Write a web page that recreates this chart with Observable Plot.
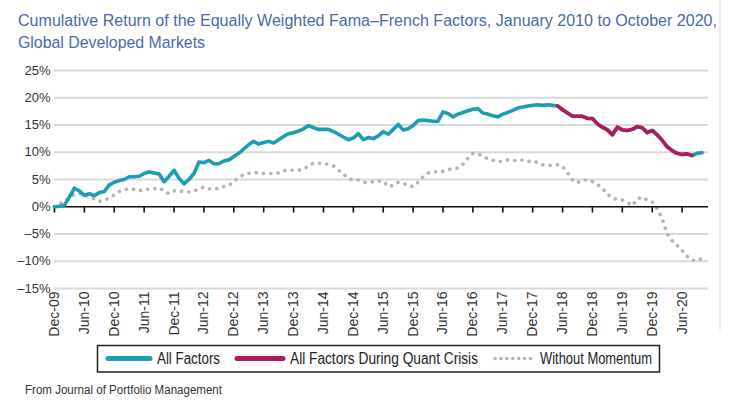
<!DOCTYPE html>
<html>
<head>
<meta charset="utf-8">
<script src="https://cdn.jsdelivr.net/npm/d3@7"></script>
<script src="https://cdn.jsdelivr.net/npm/@observablehq/plot@0.6"></script>
<style>
  html, body { margin: 0; padding: 0; background: #fff; }
  body { width: 740px; height: 408px; position: relative; overflow: hidden; font-family: "Liberation Sans", Arial, sans-serif; }
  #chart { position: absolute; left: 0; top: 55px; }
  #overlay { position: absolute; left: 0; top: 0; pointer-events: none; }
</style>
</head>
<body>
<div id="chart"></div>
<svg id="overlay" width="740" height="408"></svg>
<script>
// Monthly cumulative returns (%), Dec-09 (index 0) to Oct-20 (index 130)
const allFactors = [
  0, 0.1, 0.3, 1.8, 3.4, 2.9, 2.1, 2.4, 2.0, 2.6,
  2.8, 4.0, 4.5, 4.8, 5.0, 5.5, 5.5, 5.6, 6.1, 6.4,
  6.2, 6.0, 4.6, 5.6, 6.7, 5.2, 4.2, 5.0, 6.1, 8.2,
  8.1, 8.5, 7.9, 7.9, 8.4, 8.6, 9.2, 9.8, 10.6, 11.4,
  12.0, 11.5, 11.8, 12.0, 11.7, 12.3, 12.9, 13.4, 13.6, 13.9,
  14.3, 14.9, 14.5, 14.2, 14.2, 14.2, 13.8, 13.3, 12.8, 12.3,
  12.6, 13.4, 12.3, 12.7, 12.5, 13.0, 13.8, 13.3, 14.2, 15.1,
  14.1, 14.3, 14.9, 15.8, 15.9, 15.8, 15.7, 15.7, 17.4, 17.1,
  16.5, 17.0, 17.3, 17.6, 17.9, 18.0, 17.2, 17.0, 16.7, 16.5,
  17.0, 17.3, 17.7, 18.1, 18.3, 18.5, 18.6, 18.7, 18.6, 18.7,
  18.6, 18.5, 17.8, 17.2, 16.6, 16.6, 16.6, 16.2, 16.2, 15.2,
  14.6, 14.1, 13.2, 14.6, 14.1, 14.0, 14.2, 14.7, 14.5, 13.6,
  14.0, 13.2, 12.2, 11.0, 10.3, 9.8, 9.6, 9.7, 9.4, 9.8,
  9.9
];
const withoutMomentum = [
  0, 0.5, 1.0, 1.7, 2.3, 2.4, 2.0, 2.0, 1.4, 1.0,
  1.2, 1.6, 2.2, 2.8, 3.1, 3.3, 3.2, 2.9, 3.2, 3.2,
  3.3, 3.5, 2.9, 2.4, 2.9, 3.0, 2.7, 2.7, 2.9, 3.3,
  3.6, 3.3, 3.2, 3.4, 3.7, 3.9, 4.6, 5.4, 5.9, 6.1,
  6.3, 6.2, 6.1, 6.1, 6.1, 6.2, 6.6, 6.7, 6.7, 6.7,
  6.9, 7.5, 8.0, 8.0, 7.9, 7.8, 7.5, 6.7, 6.0, 5.2,
  4.9, 4.9, 4.5, 4.4, 4.6, 4.7, 4.7, 3.7, 3.9, 4.5,
  4.3, 3.9, 3.7, 4.5, 5.5, 6.2, 6.4, 6.4, 6.5, 6.8,
  7.0, 7.1, 7.8, 8.9, 9.8, 9.7, 9.3, 8.8, 8.5, 8.3,
  8.3, 8.6, 8.5, 8.5, 8.6, 8.3, 8.4, 8.1, 7.7, 7.6,
  7.6, 7.7, 7.4, 6.2, 4.9, 4.4, 4.9, 4.9, 4.6, 4.1,
  3.4, 2.3, 1.6, 1.3, 1.2, 0.8, 0.2, 1.4, 1.8, 1.2,
  0.9, -0.3, -2.2, -5.0, -6.2, -7.1, -8.0, -9.1, -9.8, -9.9,
  -9.5
];
const crisisStart = 101; // May-18
const crisisEnd = 128;   // Aug-20
const tickLabels = ["Dec-09","Jun-10","Dec-10","Jun-11","Dec-11","Jun-12","Dec-12","Jun-13","Dec-13","Jun-14","Dec-14","Jun-15","Dec-15","Jun-16","Dec-16","Jun-17","Dec-17","Jun-18","Dec-18","Jun-19","Dec-19","Jun-20"];
const yTicks = [25, 20, 15, 10, 5, 0, -5, -10, -15];
const gridValues = [25, 20, 15, 10, 5, -5, -10, -15];
const titleLines = ["Cumulative Return of the Equally Weighted Fama–French Factors, January 2010 to October 2020,", "Global Developed Markets"];
const legendLabels = ["All Factors", "All Factors During Quant Crisis", "Without Momentum"];
const captionText = "From Journal of Portfolio Management";

const cyan = "#1b9db4";
const magenta = "#b2195f";
const gray = "#b4b4b4";

const all = allFactors.map((v, i) => ({m: i, v}));
const wm = withoutMomentum.map((v, i) => ({m: i, v}));
const crisis = all.filter(d => d.m >= crisisStart && d.m <= crisisEnd);
const tickPos = tickLabels.map((_, i) => i * 6);

const chart = Plot.plot({
  width: 740,
  height: 287,
  marginTop: 15,
  marginLeft: 54,
  marginRight: 32,
  marginBottom: 54,
  x: {domain: [0, 131.3]},
  y: {domain: [-15, 25]},
  style: {fontFamily: "'Liberation Sans', Arial, sans-serif", color: "#333", background: "white", overflow: "visible"},
  marks: [
    Plot.ruleY(gridValues, {stroke: "#d9d9d9", strokeWidth: 2}),
    Plot.axisY({ticks: yTicks, tickSize: 0, tickPadding: 4, fontSize: 13, label: null,
      tickFormat: d => (d < 0 ? "\u2013" + Math.abs(d) : d) + "%"}),
    Plot.axisX({ticks: tickPos, tickSize: 0, tickPadding: 3, tickRotate: -90, fontSize: 14, label: null,
      tickFormat: d => tickLabels[Math.round(d / 6)]}),
    Plot.line(wm, {x: "m", y: "v", stroke: gray, strokeWidth: 3.6, strokeDasharray: "0.1 7.2", strokeLinecap: "round"}),
    Plot.ruleY([0], {stroke: "#111", strokeWidth: 1.6}),
    Plot.ruleX(tickPos, {y1: 0, y2: -1.15, stroke: "#111", strokeWidth: 1.6}),
    Plot.line(all, {x: "m", y: "v", stroke: cyan, strokeWidth: 3.6, strokeLinejoin: "round"}),
    Plot.line(crisis, {x: "m", y: "v", stroke: magenta, strokeWidth: 3.6, strokeLinejoin: "round"})
  ]
});
document.getElementById("chart").appendChild(chart);

// Overlay: title, right border, legend, caption (text compressed to the reference's narrow face)
const ov = d3.select("#overlay");
ov.append("rect").attr("x", 719).attr("y", 0).attr("width", 2).attr("height", 330).attr("fill", "#ececec");

const title = ov.append("g").attr("fill", "#4b6aab").attr("font-size", 16);
title.append("text").attr("transform", "translate(18,26) scale(1,1.08)").text(titleLines[0])
  .attr("textLength", 699).attr("lengthAdjust", "spacingAndGlyphs");
title.append("text").attr("transform", "translate(18,47.5) scale(1,1.08)").text(titleLines[1])
  .attr("textLength", 187).attr("lengthAdjust", "spacingAndGlyphs");

const lg = ov.append("g");
lg.append("rect").attr("x", 97.5).attr("y", 345.5).attr("width", 562).attr("height", 26.5)
  .attr("fill", "none").attr("stroke", "#222").attr("stroke-width", 1.5);
const items = [
  {label: legendLabels[0], color: cyan, dash: null, x1: 108, x2: 150, tx: 157, tl: 63},
  {label: legendLabels[1], color: magenta, dash: null, x1: 237, x2: 283, tx: 290, tl: 188},
  {label: legendLabels[2], color: gray, dash: "0.1 5.8", x1: 495, x2: 535, tx: 540, tl: 112}
];
items.forEach(it => {
  lg.append("line").attr("x1", it.x1).attr("x2", it.x2).attr("y1", 358.5).attr("y2", 358.5)
    .attr("stroke", it.color).attr("stroke-width", it.dash ? 3.4 : 5)
    .attr("stroke-linecap", "round").attr("stroke-dasharray", it.dash);
  lg.append("text").attr("x", it.tx).attr("y", 364).attr("font-size", 16).attr("fill", "#222")
    .attr("textLength", it.tl).attr("lengthAdjust", "spacingAndGlyphs").text(it.label);
});

ov.append("text").attr("x", 25).attr("y", 394).attr("font-size", 12).attr("fill", "#333")
  .attr("textLength", 197).attr("lengthAdjust", "spacingAndGlyphs").text(captionText);
</script>
</body>
</html>
